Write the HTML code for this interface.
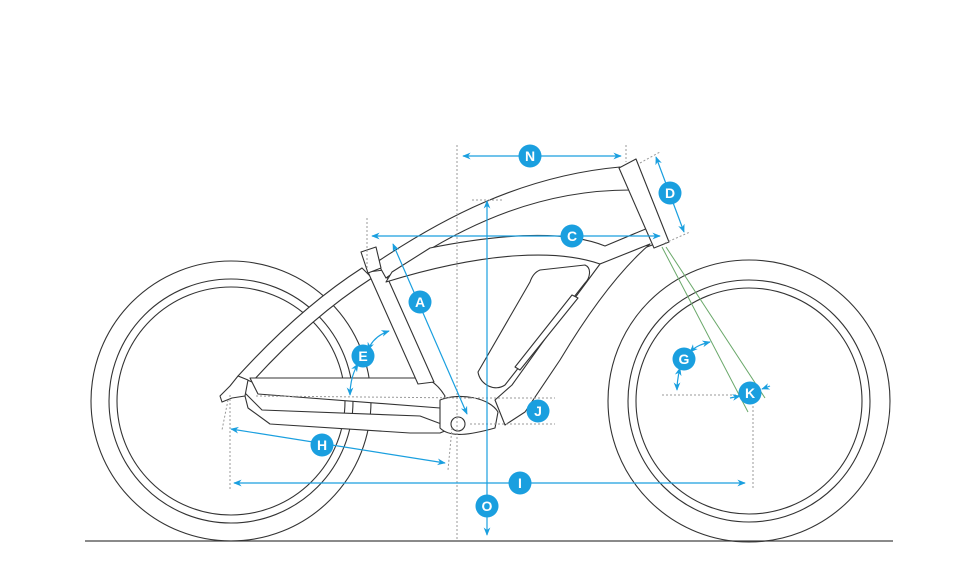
<!DOCTYPE html>
<html><head><style>html,body{margin:0;padding:0;background:#fff}svg{display:block}</style></head>
<body>
<svg width="960" height="565" viewBox="0 0 960 565" xmlns="http://www.w3.org/2000/svg" font-family="Liberation Sans, sans-serif">
<defs>
<marker id="ar" viewBox="0 0 10 10" refX="9" refY="5" markerWidth="7" markerHeight="7" orient="auto-start-reverse"><path d="M0,1 L10,5 L0,9 L3,5z" fill="#1a9fdf"/></marker>
</defs>
<rect width="960" height="565" fill="#fff"/>
<line x1="85" y1="541" x2="893" y2="541" stroke="#444" stroke-width="1.2"/>
<g fill="none" stroke="#333" stroke-width="1.1">
<circle cx="231" cy="401" r="140"/><circle cx="231" cy="401" r="122"/><circle cx="231" cy="401" r="114"/>
<circle cx="749" cy="401" r="141"/><circle cx="749" cy="401" r="121"/><circle cx="749" cy="401" r="113"/>
</g>
<g fill="#fff" stroke="#333" stroke-width="1.1" stroke-linejoin="round">
<path d="M238,376 C280,330 320,295 362,268 L372,278 C330,305 290,340 252,382 Z"/>
<path d="M250,378 L420,378 C432,378 440,388 445,396 L440,408 L258,394 Z"/>
<path d="M244,392 L262,410 L420,416 L452,428 L440,433 L410,433 L270,424 L248,408 Z"/>
<path d="M220,396 L230,386 L238,376 L248,380 L245,396 L232,398 L222,402 Z"/>
<path d="M368,272 L384,270 L434,382 L418,384 Z"/>
<path d="M377,262 C440,220 520,176 620,167 L630,190 C548,190 470,218 386,278 Z"/>
<path d="M430,248 C490,236 560,228 605,246 L648,228 L655,244 L600,264 C560,250 490,250 386,282 L392,272 Z"/>
<path d="M650,244 C620,270 590,310 560,360 L525,412 L505,425 L495,400 L512,385 L560,318 L600,264 Z"/>
<path d="M619,168 L636,159 L669,242 L654,248 Z"/>
<path d="M361,252 L376,247 L381,268 L368,273 Z"/>
<path d="M540,270 L585,265 C592,268 590,278 585,283 L505,385 C495,392 480,385 478,372 L530,282 C532,276 535,272 540,270 Z"/>
<path d="M572,295 L578,298 L520,370 L515,367 Z"/>
<path d="M440,400 C460,392 490,398 498,412 L495,428 C470,435 450,438 440,428 Z"/>
<circle cx="458" cy="424" r="7"/>
</g>
<g stroke="#999" stroke-width="1" stroke-dasharray="2,2" fill="none">
<line x1="457" y1="145" x2="457" y2="540"/>
<line x1="626" y1="145" x2="626" y2="162"/>
<line x1="367" y1="218" x2="367" y2="268"/>
<line x1="472" y1="200" x2="503" y2="200"/>
<line x1="470" y1="398" x2="555" y2="398"/>
<line x1="470" y1="424" x2="555" y2="424"/>
<line x1="230" y1="395" x2="230" y2="490"/>
<line x1="228" y1="400" x2="222" y2="430"/>
<line x1="452" y1="428" x2="448" y2="470"/>
<line x1="662" y1="395" x2="742" y2="395"/>
<line x1="753" y1="402" x2="753" y2="490"/>
<line x1="640" y1="163" x2="660" y2="152"/>
<line x1="665" y1="243" x2="690" y2="232"/>
<line x1="256" y1="396" x2="470" y2="398"/>
</g>
<g stroke="#6aa86a" stroke-width="1">
<line x1="662" y1="247" x2="748" y2="412"/>
<line x1="666" y1="247" x2="765" y2="398"/>
</g>
<g stroke="#1a9fdf" stroke-width="1.2" fill="none" marker-start="url(#ar)" marker-end="url(#ar)">
<line x1="463" y1="156" x2="621" y2="156"/>
<line x1="656" y1="157" x2="684" y2="232"/>
<line x1="372" y1="236" x2="660" y2="236"/>
<line x1="393" y1="244" x2="467" y2="414"/>
<line x1="487" y1="201" x2="487" y2="535"/>
<line x1="231" y1="429" x2="445" y2="463"/>
<line x1="234" y1="483" x2="745" y2="483"/>
<path d="M368,350 C372,340 380,334 389,331"/>
<path d="M358,364 C352,374 350,384 350,395"/>
<path d="M690,352 C696,346 702,344 710,342"/>
<path d="M680,368 C678,376 677,382 677,390"/>
</g>
<g stroke="#1a9fdf" stroke-width="1.2" marker-end="url(#ar)">
<line x1="730" y1="398" x2="740" y2="396"/>
<line x1="770" y1="386" x2="762" y2="389"/>
</g>
<g font-size="14" font-weight="bold" fill="#fff" text-anchor="middle">
<g fill="#1a9fdf">
<circle cx="530" cy="156" r="11.5"/><circle cx="670" cy="193" r="11.5"/><circle cx="572" cy="236" r="11.5"/>
<circle cx="420" cy="302" r="11.5"/><circle cx="363" cy="356" r="11.5"/><circle cx="538" cy="411" r="11.5"/>
<circle cx="322" cy="445" r="11.5"/><circle cx="520" cy="483" r="11.5"/><circle cx="487" cy="506" r="11.5"/>
<circle cx="684" cy="359" r="11.5"/><circle cx="750" cy="393" r="11.5"/>
</g>
<text x="530" y="161">N</text><text x="670" y="198">D</text><text x="572" y="241">C</text>
<text x="420" y="307">A</text><text x="363" y="361">E</text><text x="538" y="416">J</text>
<text x="322" y="450">H</text><text x="520" y="488">I</text><text x="487" y="511">O</text>
<text x="684" y="364">G</text><text x="750" y="398">K</text>
</g>
</svg>
</body></html>
